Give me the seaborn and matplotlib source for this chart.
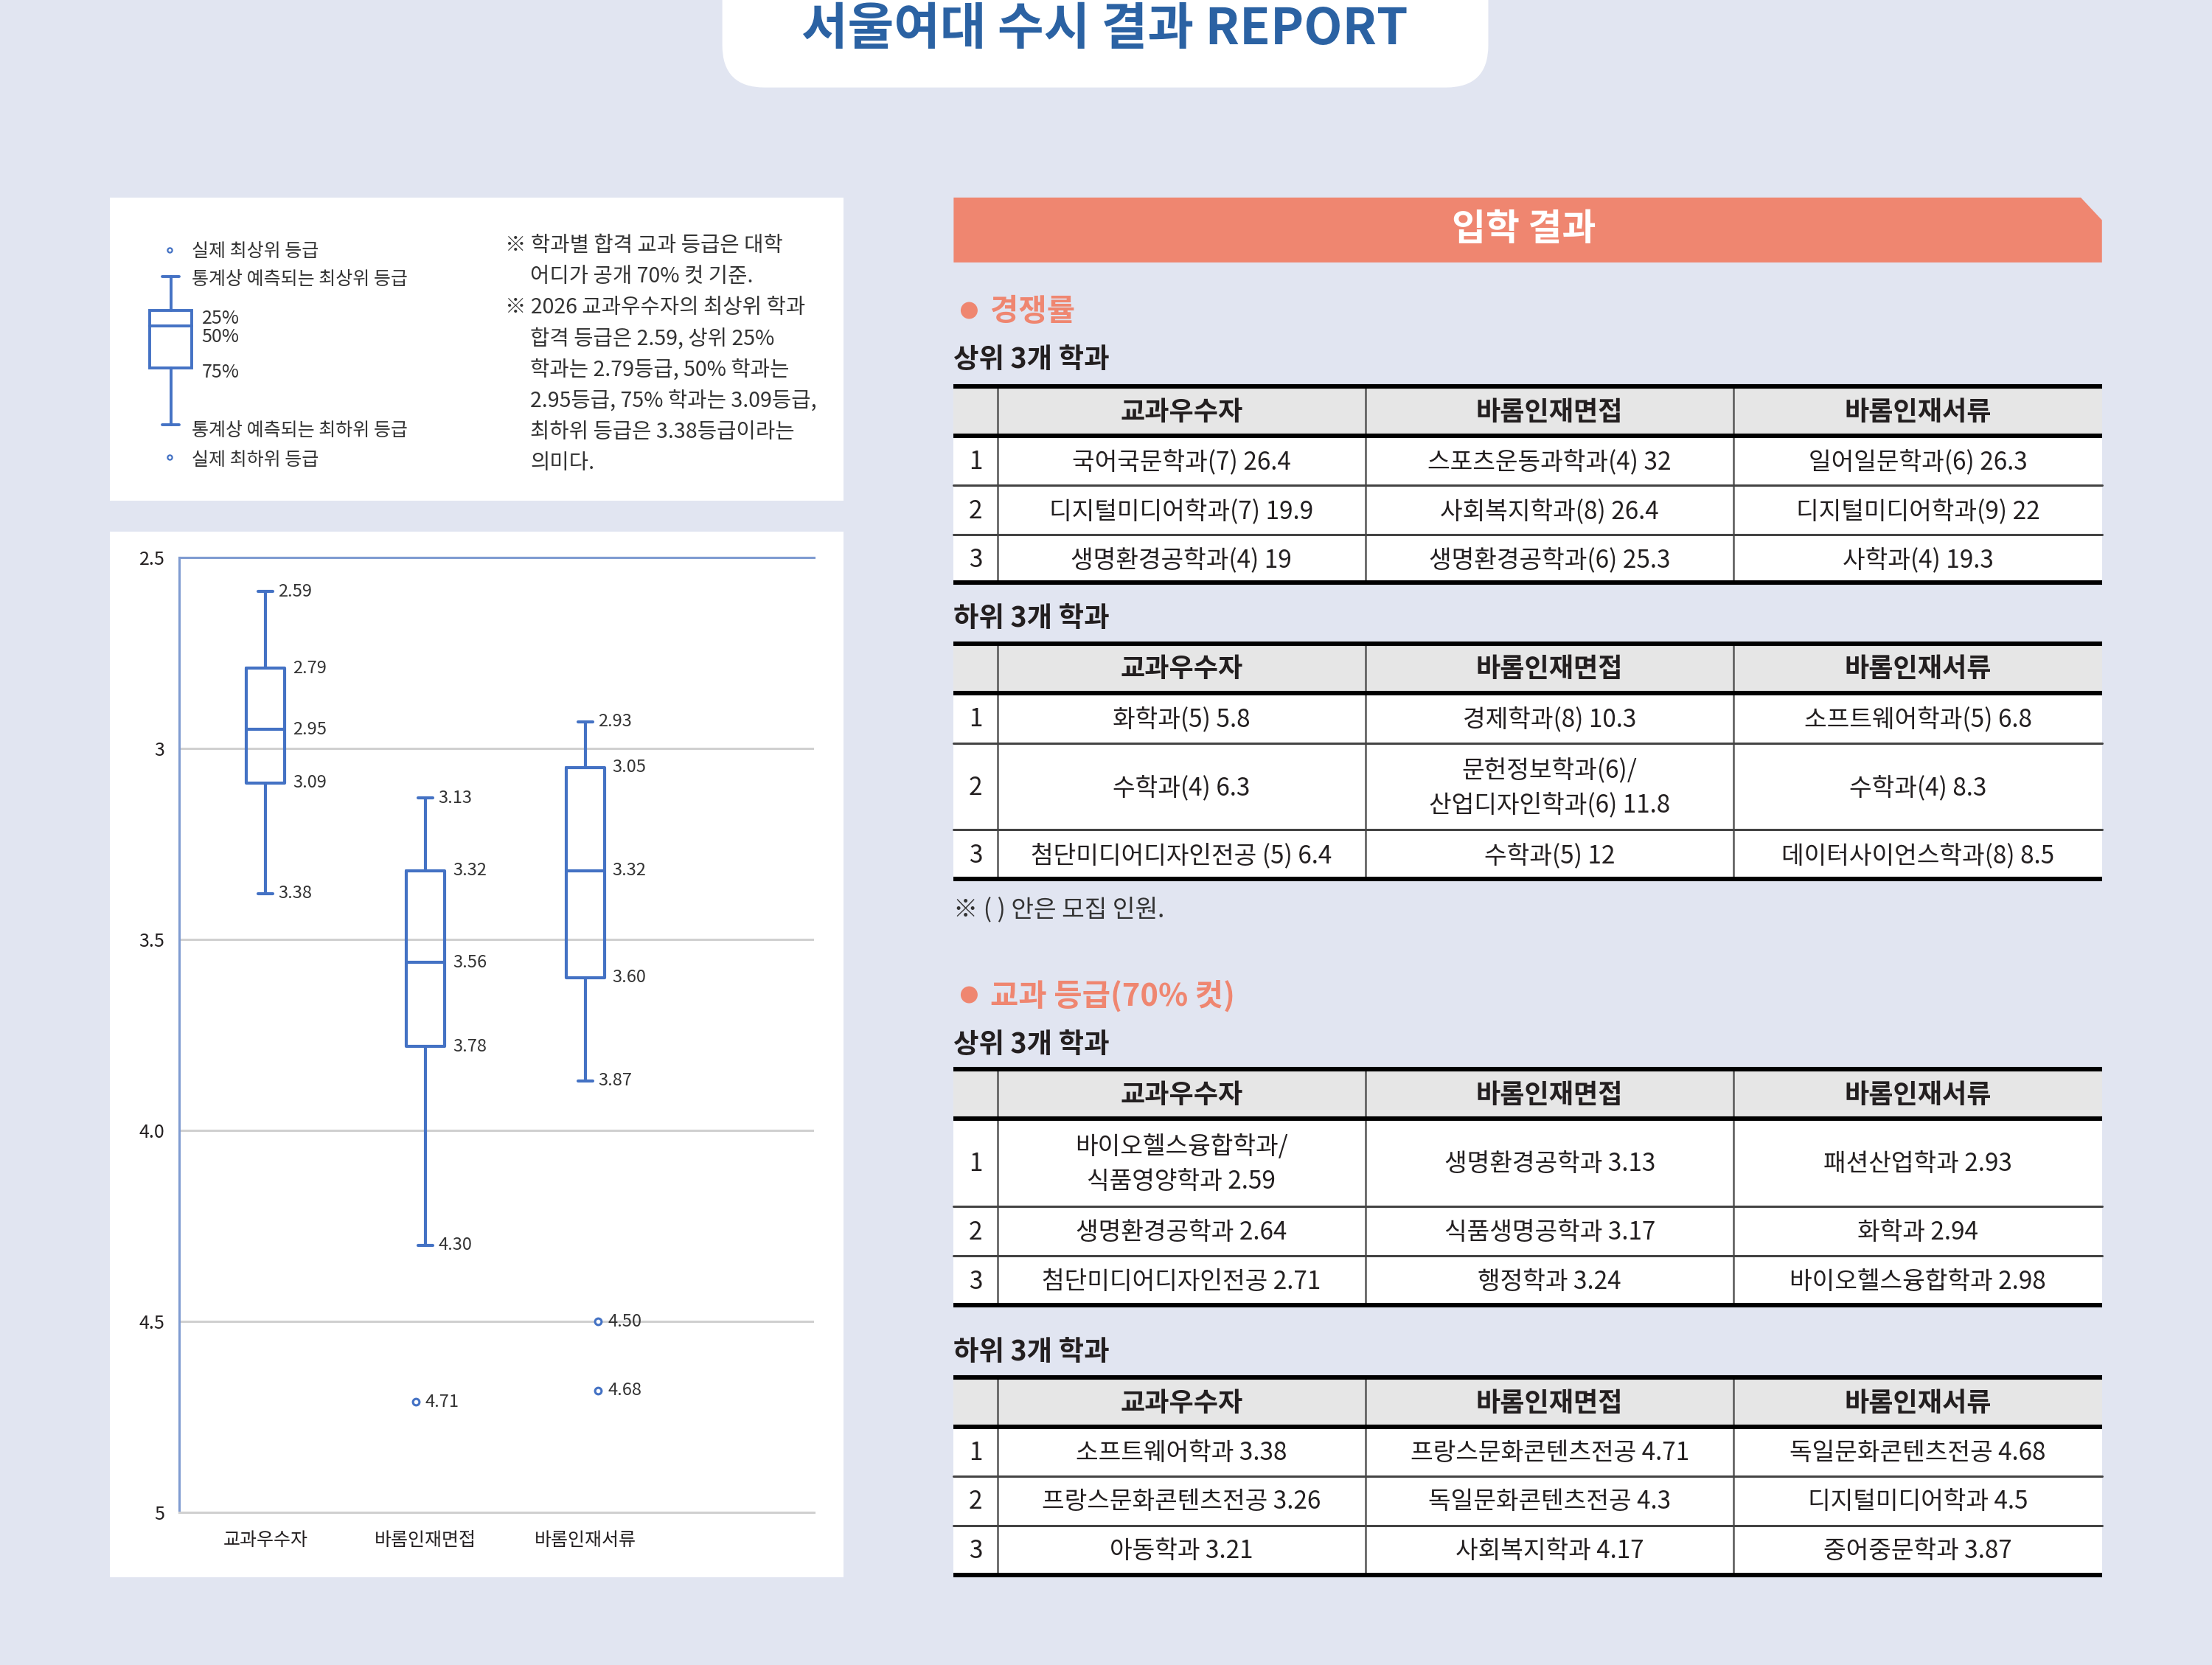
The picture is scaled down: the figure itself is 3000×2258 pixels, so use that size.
import numpy as np
import pandas as pd
import matplotlib
matplotlib.use('Agg')
import matplotlib.pyplot as plt
from matplotlib.patches import Rectangle, FancyBboxPatch, Polygon, Circle
import seaborn as sns

sns.set_style('white')
plt.rcParams['font.family'] = ['Noto Sans CJK KR', 'DejaVu Sans']

# ---- chart data ----
categories = ['교과우수자', '바롬인재면접', '바롬인재서류']
whis_lo = [2.59, 3.13, 2.93]
q1 = [2.79, 3.32, 3.05]
med = [2.95, 3.56, 3.32]
q3 = [3.09, 3.78, 3.60]
whis_hi = [3.38, 4.30, 3.87]
outlier_cat = ['바롬인재면접', '바롬인재서류', '바롬인재서류']
outlier_val = [4.71, 4.50, 4.68]
y_ticks = [2.5, 3.0, 3.5, 4.0, 4.5, 5.0]
y_ticklabels = ['2.5', '3', '3.5', '4.0', '4.5', '5']

# ---- table data ----
col_heads = ['교과우수자', '바롬인재면접', '바롬인재서류']
comp_top = [
    ['국어국문학과(7) 26.4', '스포츠운동과학과(4) 32', '일어일문학과(6) 26.3'],
    ['디지털미디어학과(7) 19.9', '사회복지학과(8) 26.4', '디지털미디어학과(9) 22'],
    ['생명환경공학과(4) 19', '생명환경공학과(6) 25.3', '사학과(4) 19.3'],
]
comp_bottom = [
    ['화학과(5) 5.8', '경제학과(8) 10.3', '소프트웨어학과(5) 6.8'],
    ['수학과(4) 6.3', '문헌정보학과(6)/\n산업디자인학과(6) 11.8', '수학과(4) 8.3'],
    ['첨단미디어디자인전공 (5) 6.4', '수학과(5) 12', '데이터사이언스학과(8) 8.5'],
]
grade_top = [
    ['바이오헬스융합학과/\n식품영양학과 2.59', '생명환경공학과 3.13', '패션산업학과 2.93'],
    ['생명환경공학과 2.64', '식품생명공학과 3.17', '화학과 2.94'],
    ['첨단미디어디자인전공 2.71', '행정학과 3.24', '바이오헬스융합학과 2.98'],
]
grade_bottom = [
    ['소프트웨어학과 3.38', '프랑스문화콘텐츠전공 4.71', '독일문화콘텐츠전공 4.68'],
    ['프랑스문화콘텐츠전공 3.26', '독일문화콘텐츠전공 4.3', '디지털미디어학과 4.5'],
    ['아동학과 3.21', '사회복지학과 4.17', '중어중문학과 3.87'],
]
note_lines = [
    '※ 학과별 합격 교과 등급은 대학',
    '어디가 공개 70% 컷 기준.',
    '※ 2026 교과우수자의 최상위 학과',
    '합격 등급은 2.59, 상위 25%',
    '학과는 2.79등급, 50% 학과는',
    '2.95등급, 75% 학과는 3.09등급,',
    '최하위 등급은 3.38등급이라는',
    '의미다.',
]

# ---- styles ----
BG = '#E1E5F1'
BLUE = '#4472C4'
TITLE_BLUE = '#2B62A3'
SALMON = '#EF8670'
INK = '#231F20'
W, H = 1568, 1180  # layout units (page pixels at 1568 wide)
FLIER_SHIFT = {'바롬인재면접': -0.06, '바롬인재서류': 0.08}
TABLE_FS = 12

fig = plt.figure(figsize=(15, 11.29), dpi=200)
fig.patch.set_facecolor(BG)

# page layer
pg = fig.add_axes([0, 0, 1, 1])
pg.set_xlim(0, W)
pg.set_ylim(H, 0)
pg.axis('off')

# title tab
pg.add_patch(FancyBboxPatch((512, -60), 543, 122, boxstyle='round,pad=0,rounding_size=30',
                            fc='white', ec='none'))
pg.text(783, 21, '서울여대 수시 결과 REPORT', ha='center', va='center', fontsize=24.5,
        fontweight='bold', color=TITLE_BLUE)

# white panels on the left
pg.add_patch(Rectangle((78, 140), 520, 215, fc='white', ec='none'))
pg.add_patch(Rectangle((78, 377), 520, 741, fc='white', ec='none'))

# legend sketch
lw_leg = 1.4
pg.add_patch(Rectangle((106, 220), 30, 41, fc='none', ec=BLUE, lw=lw_leg))
pg.plot([106, 136], [231, 231], color=BLUE, lw=lw_leg)
pg.plot([121, 121], [196, 220], color=BLUE, lw=lw_leg)
pg.plot([121, 121], [261, 301], color=BLUE, lw=lw_leg)
pg.plot([115, 127], [196, 196], color=BLUE, lw=lw_leg)
pg.plot([115, 127], [301, 301], color=BLUE, lw=lw_leg)
pg.scatter([120, 120], [177, 324], s=5, facecolor='white', edgecolor=BLUE, lw=0.8)
leg_txt = dict(fontsize=9, color='#333333', va='center', ha='left')
pg.text(136, 178, '실제 최상위 등급', **leg_txt)
pg.text(136, 198, '통계상 예측되는 최상위 등급', **leg_txt)
pg.text(143, 226, '25%', **leg_txt)
pg.text(143, 239, '50%', **leg_txt)
pg.text(143, 264, '75%', **leg_txt)
pg.text(136, 305, '통계상 예측되는 최하위 등급', **leg_txt)
pg.text(136, 326, '실제 최하위 등급', **leg_txt)
for i, line in enumerate(note_lines):
    x = 358 if line.startswith('※') else 376
    pg.text(x, 174 + 22 * i, line, fontsize=10.3, color='#333333', va='center', ha='left')

# ---- box plot ----
ax = fig.add_axes([127 / W, 1 - 1072 / H, 450 / W, 677 / H])
ax.set_facecolor('white')
pos = np.arange(len(categories))
stats = [dict(whislo=a, q1=b, med=c, q3=d, whishi=e, fliers=[])
         for a, b, c, d, e in zip(whis_lo, q1, med, q3, whis_hi)]
line_kw = dict(color=BLUE, linewidth=1.5)
ax.bxp(stats, positions=pos, widths=0.24, capwidths=0.09, showfliers=False,
       boxprops=line_kw, whiskerprops=line_kw, capprops=line_kw, medianprops=line_kw)

out_df = pd.DataFrame({'cat': outlier_cat, 'val': outlier_val})
out_df['x'] = out_df['cat'].map({c: i for i, c in enumerate(categories)}) + out_df['cat'].map(FLIER_SHIFT)
sns.scatterplot(data=out_df, x='x', y='val', ax=ax, s=10, color='white',
                edgecolor=BLUE, linewidth=1.1, zorder=4, legend=False)

lab_kw = dict(fontsize=8.5, color='#333333', va='center', ha='left')
for i in pos:
    for v in (whis_lo[i], whis_hi[i]):
        ax.text(i + 0.08, v, f'{v:.2f}', **lab_kw)
    for v in (q1[i], med[i], q3[i]):
        ax.text(i + 0.17, v, f'{v:.2f}', **lab_kw)
for _, r in out_df.iterrows():
    ax.text(r['x'] + 0.06, r['val'], f"{r['val']:.2f}", **lab_kw)

ax.set_xlim(-0.54, 3.43)
ax.set_ylim(5, 2.5)
ax.set_yticks(y_ticks)
ax.set_yticklabels(y_ticklabels, fontsize=9, color=INK)
ax.set_xticks(pos)
ax.set_xticklabels(categories, fontsize=9, color=INK)
ax.set_xlabel('')
ax.set_ylabel('')
ax.tick_params(length=0, axis='y', pad=7)
ax.tick_params(length=0, axis='x', pad=9)
ax.yaxis.grid(True, color='#D0D0D0', lw=1.1)
ax.xaxis.grid(False)
ax.set_axisbelow(True)
sns.despine(ax=ax, right=True, top=False)
ax.spines['top'].set_color('#7F9BD1')
ax.spines['left'].set_color('#7F9BD1')
ax.spines['bottom'].set_color('#D0D0D0')
for s in ('top', 'left', 'bottom'):
    ax.spines[s].set_linewidth(1.1)

# ---- right column ----
pg.add_patch(Polygon([(676, 140), (1475, 140), (1490, 156), (1490, 186), (676, 186)],
                     closed=True, fc=SALMON, ec='none'))
pg.text(1080, 163, '입학 결과', ha='center', va='center', fontsize=18,
        fontweight='bold', color='white')


def section(y, label):
    pg.add_patch(Circle((687, y), 6, fc=SALMON, ec='none'))
    pg.text(702, y + 1, label, ha='left', va='center', fontsize=15,
            fontweight='bold', color=SALMON)


def subhead(y, label):
    pg.text(676, y + 1, label, ha='left', va='center', fontsize=13.5,
            fontweight='bold', color=INK)


def draw_table(top, row_h, rows):
    xs = [676, 707, 968, 1229, 1490]
    head_h = 35
    bottom = top + head_h + sum(row_h)
    pg.add_patch(Rectangle((xs[0], top), xs[-1] - xs[0], head_h, fc='#E6E6E6', ec='none'))
    pg.add_patch(Rectangle((xs[0], top + head_h), xs[-1] - xs[0], sum(row_h), fc='white', ec='none'))
    for x in xs[1:-1]:
        pg.plot([x, x], [top, bottom], color='#555555', lw=0.9)
    for j, h in enumerate(col_heads):
        pg.text((xs[j + 1] + xs[j + 2]) / 2, top + head_h / 2 + 1, h, ha='center', va='center',
                fontsize=13, fontweight='bold', color=INK)
    y = top + head_h
    for i, (h, row) in enumerate(zip(row_h, rows)):
        pg.text((xs[0] + xs[1]) / 2, y + h / 2 + 1, str(i + 1), ha='center', va='center',
                fontsize=TABLE_FS, color=INK)
        for j, cell in enumerate(row):
            pg.text((xs[j + 1] + xs[j + 2]) / 2, y + h / 2 + 1, cell, ha='center', va='center',
                    fontsize=TABLE_FS, color=INK, linespacing=1.45)
        y += h
        if i < len(rows) - 1:
            pg.plot([xs[0], xs[-1]], [y, y], color='#444444', lw=1.1)
    for yy in (top, top + head_h, bottom):
        pg.plot([xs[0], xs[-1]], [yy, yy], color='black', lw=2.2, solid_capstyle='butt')


section(220, '경쟁률')
subhead(254, '상위 3개 학과')
draw_table(274, [35, 35, 34], comp_top)
subhead(437, '하위 3개 학과')
draw_table(456, [36, 61, 35], comp_bottom)
pg.text(676, 645, '※ ( ) 안은 모집 인원.', ha='left', va='center', fontsize=12, color='#333333')

section(705, '교과 등급(70% 컷)')
subhead(739, '상위 3개 학과')
draw_table(758, [62, 35, 35], grade_top)
subhead(957, '하위 3개 학과')
draw_table(976, [35, 35, 35], grade_bottom)

fig.savefig('out.png', dpi=200, facecolor=fig.get_facecolor())
